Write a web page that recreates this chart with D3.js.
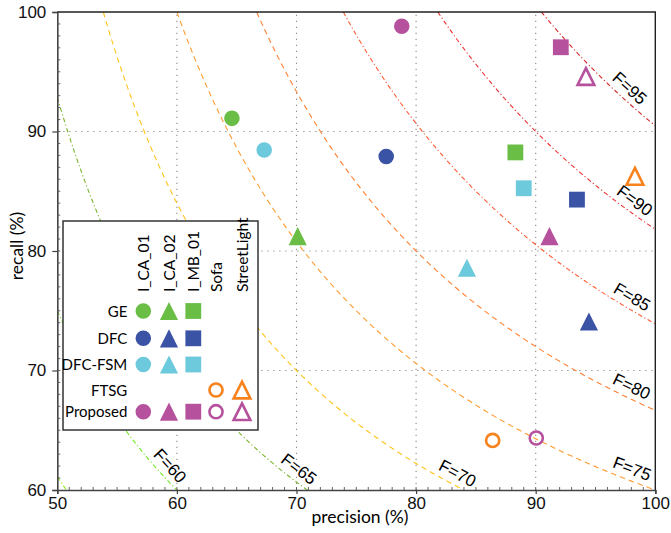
<!DOCTYPE html>
<html>
<head>
<meta charset="utf-8">
<script src="https://cdn.jsdelivr.net/npm/d3@7"></script>
<style>
  html, body { margin: 0; padding: 0; background: #fff; }
  svg { display: block; }
</style>
</head>
<body>
<div id="chart"></div>
<script>
// legend rows / columns
const methods = ["GE", "DFC", "DFC-FSM", "FTSG", "Proposed"];
const datasets = ["I_CA_01", "I_CA_02", "I_MB_01", "Sofa", "StreetLight"];
const methodColors = ["#6abd45", "#3a53a4", "#6dc9dc", "#f7821e", "#b5519d"];

// precision / recall per method, one entry per dataset (null = not evaluated)
const precisionGE = [64.6, 70.1, 88.3, null, null];
const recallGE = [91.1, 81.25, 88.25, null, null];
const precisionDFC = [77.5, 94.45, 93.45, null, null];
const recallDFC = [87.9, 74.1, 84.3, null, null];
const precisionDFCFSM = [67.3, 84.25, 89.0, null, null];
const recallDFCFSM = [88.45, 78.6, 85.25, null, null];
const precisionFTSG = [null, null, null, 86.4, 98.3];
const recallFTSG = [null, null, null, 64.15, 86.25];
const precisionProposed = [78.8, 91.15, 92.1, 90.05, 94.2];
const recallProposed = [98.8, 81.25, 97.05, 64.35, 94.6];

// iso F-measure curves
const fLevels = [55, 60, 65, 70, 75, 80, 85, 90, 95];
const fColors = ["#8cf01c", "#6ee826", "#7ab52c", "#ffc41c", "#ff9c30", "#ff8030", "#ff5a32", "#ee3030", "#d82424"];
const fLabelPrecision = [null, 58.7, 69.6, 83.0, 97.7, 97.6, 97.55, 97.7, 97.2];

const xTicks = [50, 60, 70, 80, 90, 100];
const yTicks = [60, 70, 80, 90, 100];

const precisions = [precisionGE, precisionDFC, precisionDFCFSM, precisionFTSG, precisionProposed];
const recalls = [recallGE, recallDFC, recallDFCFSM, recallFTSG, recallProposed];

const W = 671, H = 533;
const margin = { top: 12, right: 15.7, bottom: 43, left: 57.3 };

const svg = d3.select("#chart").append("svg")
  .attr("width", W).attr("height", H)
  .attr("viewBox", `0 0 ${W} ${H}`);

const x = d3.scaleLinear().domain([50, 100]).range([margin.left, W - margin.right]);
const y = d3.scaleLinear().domain([60, 100]).range([H - margin.bottom, margin.top]);

const tickFont = "'Liberation Sans', Arial, sans-serif";
const textFont = "Lato, 'Noto Sans', sans-serif";

// grid
const grid = svg.append("g").attr("stroke", "#8a8a8a").attr("stroke-width", 1.1)
  .attr("stroke-dasharray", "1.2,4.8");
grid.selectAll("line.gx").data(xTicks.slice(1, -1)).enter().append("line")
  .attr("x1", d => x(d)).attr("x2", d => x(d))
  .attr("y1", y(60)).attr("y2", y(100));
grid.selectAll("line.gy").data(yTicks.slice(1, -1)).enter().append("line")
  .attr("x1", x(50)).attr("x2", x(100))
  .attr("y1", d => y(d)).attr("y2", d => y(d));

// F curves
svg.append("clipPath").attr("id", "plotclip").append("rect")
  .attr("x", x(50)).attr("y", y(100)).attr("width", x(100) - x(50)).attr("height", y(60) - y(100));

const recallFor = (f, p) => f * p / (2 * p - f);
const curve = d3.line().x(d => x(d[0])).y(d => y(d[1]));

const curves = svg.append("g").attr("clip-path", "url(#plotclip)");
fLevels.forEach((f, i) => {
  const p0 = Math.max(50, f * 100 / (200 - f));
  const p1 = Math.min(100, 60 * f / (120 - f));
  const pts = d3.range(0, 201).map(k => {
    const p = p0 + (p1 - p0) * k / 200;
    return [p, recallFor(f, p)];
  });
  curves.append("path")
    .datum(pts)
    .attr("fill", "none")
    .attr("stroke", fColors[i])
    .attr("stroke-width", 1.1)
    .attr("stroke-dasharray", f >= 85 || f <= 65 ? "4.5,2.5,1.2,2.5" : "5.5,4")
    .attr("d", curve);
});

// F labels
fLevels.forEach((f, i) => {
  const p = fLabelPrecision[i];
  if (p === null) return;
  const px = x(p), py = y(recallFor(f, p));
  const qx = x(p + 0.2), qy = y(recallFor(f, p + 0.2));
  const ang = Math.atan2(qy - py, qx - px) * 180 / Math.PI;
  svg.append("text")
    .attr("transform", `translate(${px},${py}) rotate(${ang})`)
    .attr("dy", "-0.35em")
    .attr("text-anchor", "middle")
    .attr("font-family", tickFont)
    .attr("font-size", 17)
    .attr("fill", "#000")
    .text("F=" + f);
});

// axes
const xAxis = svg.append("g")
  .attr("transform", `translate(0,${y(60)})`)
  .call(d3.axisBottom(x).tickValues(xTicks).tickSize(4).tickPadding(3).tickFormat(d3.format("d")));
const yAxis = svg.append("g")
  .attr("transform", `translate(${x(50)},0)`)
  .call(d3.axisLeft(y).tickValues(yTicks).tickSize(5).tickPadding(6).tickFormat(d3.format("d")));
[xAxis, yAxis].forEach(a => {
  a.select(".domain").attr("stroke", "#444").attr("stroke-width", 1.6);
  a.selectAll(".tick line").attr("stroke", "#444").attr("stroke-width", 1.2);
  a.selectAll(".tick text").attr("font-family", tickFont).attr("font-size", 17).attr("fill", "#111");
});

// minor ticks
svg.append("g").attr("stroke", "#555").attr("stroke-width", 0.9)
  .selectAll("line").data(d3.range(51, 100)).enter().append("line")
  .attr("x1", d => x(d)).attr("x2", d => x(d))
  .attr("y1", y(60)).attr("y2", y(60) - 3);
svg.append("g").attr("stroke", "#555").attr("stroke-width", 0.9)
  .selectAll("line").data(d3.range(61, 100)).enter().append("line")
  .attr("x1", x(50)).attr("x2", x(50) + 3)
  .attr("y1", d => y(d)).attr("y2", d => y(d));

// top and right frame
svg.append("path")
  .attr("d", `M${x(50)},${y(100)}H${x(100)}V${y(60)}`)
  .attr("fill", "none").attr("stroke", "#222").attr("stroke-width", 1.4);

// axis titles
svg.append("text")
  .attr("x", 360).attr("y", 523)
  .attr("text-anchor", "middle")
  .attr("font-family", textFont).attr("font-size", 17.5)
  .attr("fill", "#000")
  .text("precision (%)");
svg.append("text")
  .attr("transform", `translate(23,246) rotate(-90)`)
  .attr("text-anchor", "middle")
  .attr("font-family", textFont).attr("font-size", 17.5)
  .attr("fill", "#000")
  .text("recall (%)");

// marker shapes per dataset
const triangleUp = {
  draw(ctx, size) {
    const s = Math.sqrt(size * 2);
    ctx.moveTo(0, -s / 2);
    ctx.lineTo(s / 2, s / 2);
    ctx.lineTo(-s / 2, s / 2);
    ctx.closePath();
  }
};
const shapeOf = [
  { type: d3.symbolCircle, size: 190, open: false },
  { type: triangleUp, size: 165, open: false },
  { type: d3.symbolSquare, size: 250, open: false },
  { type: d3.symbolCircle, size: 135, open: true },
  { type: triangleUp, size: 140, open: true },
];

function drawMarker(g, cx, cy, di, color) {
  const s = shapeOf[di];
  g.append("path")
    .attr("transform", `translate(${cx},${cy})`)
    .attr("d", d3.symbol().type(s.type).size(s.size)())
    .attr("fill", s.open ? "none" : color)
    .attr("stroke", s.open ? color : "none")
    .attr("stroke-width", s.open ? 2.6 : 0);
}

const marks = svg.append("g");
methods.forEach((m, mi) => {
  datasets.forEach((d, di) => {
    const p = precisions[mi][di], r = recalls[mi][di];
    if (p === null) return;
    drawMarker(marks, x(p), y(r), di, methodColors[mi]);
  });
});

// legend
const legend = svg.append("g");
legend.append("rect")
  .attr("x", 63).attr("y", 221).attr("width", 195).attr("height", 209)
  .attr("fill", "#fff").attr("stroke", "#333").attr("stroke-width", 1.5);
const colX = [143.3, 169, 193.3, 216, 242];
const rowY = [311, 338.3, 364.5, 390, 411.7];
datasets.forEach((d, di) => {
  legend.append("text")
    .attr("transform", `translate(${colX[di] + 5.5},292) rotate(-90)`)
    .attr("font-family", textFont).attr("font-size", 15.5)
    .attr("fill", "#000")
    .text(d);
});
methods.forEach((m, mi) => {
  legend.append("text")
    .attr("x", 127.3).attr("y", rowY[mi] + 5.5)
    .attr("text-anchor", "end")
    .attr("font-family", textFont).attr("font-size", 15)
    .attr("fill", "#000")
    .text(m);
  datasets.forEach((d, di) => {
    if (precisions[mi][di] === null) return;
    drawMarker(legend, colX[di], rowY[mi], di, methodColors[mi]);
  });
});
</script>
</body>
</html>
